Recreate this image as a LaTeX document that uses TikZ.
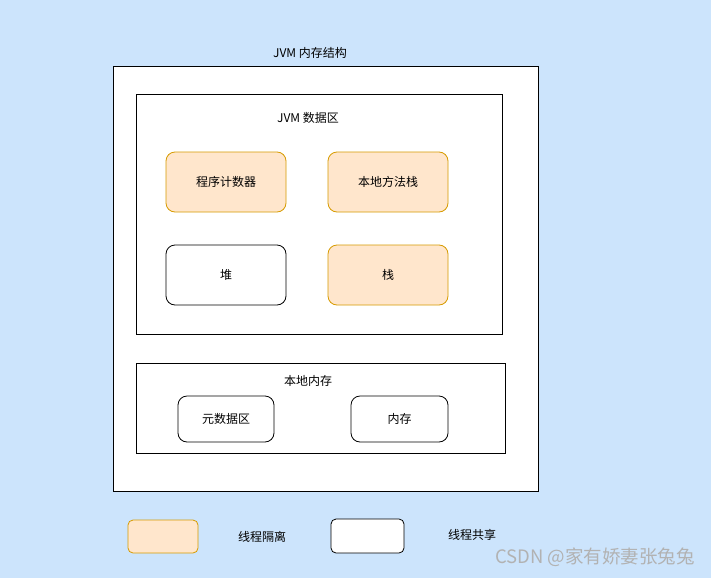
\documentclass[tikz,border=0pt]{standalone}
\usepackage{fontspec}
\setmainfont{Liberation Sans}
\newfontfamily\cjk{Noto Sans CJK SC}
\definecolor{bgblue}{RGB}{204,228,252}
\definecolor{orfill}{RGB}{255,230,204}
\definecolor{orline}{RGB}{215,155,0}
\begin{document}
\begin{tikzpicture}[x=1pt,y=-1pt,
  lbl/.style={font=\cjk\fontsize{12}{14}\selectfont, inner sep=0pt},
  container/.style={draw=black, fill=white, line width=0.8pt, inner sep=0pt},
  iso/.style={draw=orline, fill=orfill, rounded corners=9pt, line width=0.8pt, inner sep=0pt},
  shr/.style={draw=black, fill=white, rounded corners=9pt, line width=0.8pt, inner sep=0pt}]
\fill[bgblue] (0,0) rectangle (711,578);
\useasboundingbox (0,0) rectangle (711,578);
% outer
\node[container, minimum width=425pt, minimum height=425pt] (outer) at (325.5,278.5) {};
\node[lbl] (outert) at (310,53) {JVM 内存结构};
% data area
\node[container, minimum width=366pt, minimum height=240pt] (data) at (319,214) {};
\node[lbl] (datat) at (308,118) {JVM 数据区};
\node[iso, minimum width=120pt, minimum height=60pt] (pc) at (226,182) {};
\node[lbl] at (pc) {程序计数器};
\node[iso, minimum width=120pt, minimum height=60pt] (nms) at (388,182) {};
\node[lbl] at (nms) {本地方法栈};
\node[shr, minimum width=120pt, minimum height=60pt] (heap) at (226,275) {};
\node[lbl] at (heap) {堆};
\node[iso, minimum width=120pt, minimum height=60pt] (stack) at (388,275) {};
\node[lbl] at (stack) {栈};
% native memory
\node[container, minimum width=369pt, minimum height=90pt] (native) at (320.5,408) {};
\node[lbl] (nativet) at (308,381) {本地内存};
\node[shr, minimum width=96pt, minimum height=46pt] (meta) at (226,419) {};
\node[lbl] at (meta) {元数据区};
\node[shr, minimum width=97pt, minimum height=46pt] (mem) at (399.5,419) {};
\node[lbl] at (mem) {内存};
% legend
\node[iso, rounded corners=5pt, minimum width=70pt, minimum height=33pt] (legiso) at (163,536.5) {};
\node[lbl] (legisot) at (262,537) {线程隔离};
\node[shr, rounded corners=5pt, minimum width=73pt, minimum height=34pt] (legshr) at (367.5,536) {};
\node[lbl] (legshrt) at (472,535) {线程共享};
% watermark
\node[font=\cjk\fontsize{18.5}{20}\selectfont, text=gray!60, inner sep=0pt, anchor=east] (wm) at (695,557) {CSDN @家有娇妻张兔兔};
\end{tikzpicture}
\end{document}
